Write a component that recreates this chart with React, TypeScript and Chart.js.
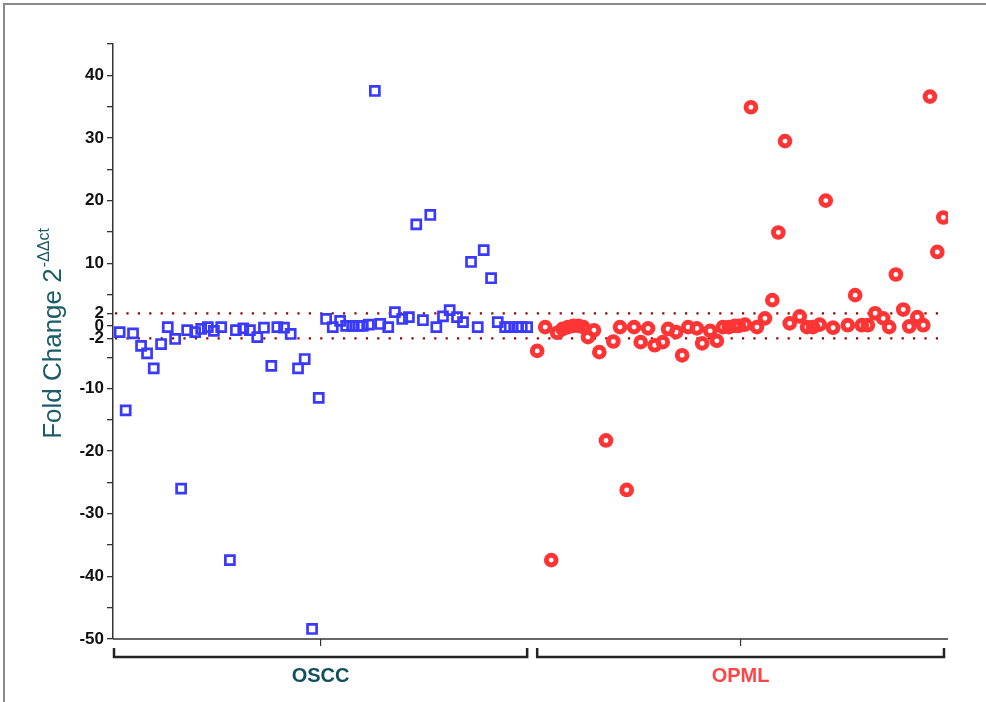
import { useEffect, useRef } from 'react';
import { Chart, registerables } from 'chart.js';

Chart.register(...registerables);

const FONT = '"Liberation Sans", Arial, Helvetica, sans-serif';

// Sample order along the x axis and fold change (2^-ΔΔct) for every sample
const osccSample = [
  1.0, 1.9, 3.0, 4.2, 5.1, 6.1, 7.2, 8.2, 9.3, 10.2,
  11.1, 12.3, 13.2, 14.2, 15.1, 16.2, 17.5, 18.4, 19.5, 20.5,
  21.6, 22.6, 23.7, 24.6, 25.6, 26.6, 27.7, 28.7, 29.8, 30.8,
  31.9, 32.9, 34.0, 34.9, 35.8, 36.7, 37.4, 38.3, 39.2, 40.0,
  41.2, 42.2, 43.3, 44.3, 45.4, 46.4, 47.5, 48.4, 49.4, 50.4,
  51.5, 52.4, 53.6, 54.6, 55.5, 56.6, 57.6, 58.7, 59.4, 60.5,
  61.2, 62.0,
];
const osccFold = [
  -1.0, -13.5, -1.2, -3.2, -4.4, -6.8, -2.9, -0.2, -2.1, -26.0,
  -0.7, -1.0, -0.5, -0.2, -0.8, -0.2, -37.4, -0.7, -0.4, -0.7,
  -1.8, -0.3, -6.4, -0.2, -0.3, -1.3, -6.8, -5.3, -48.4, -11.5,
  1.1, -0.2, 0.8, 0.0, 0.0, 0.0, 0.0, 0.2, 37.5, 0.3,
  -0.2, 2.2, 1.1, 1.4, 16.2, 0.9, 17.7, -0.2, 1.5, 2.5,
  1.4, 0.6, 10.2, -0.2, 12.1, 7.6, 0.6, -0.2, -0.2, -0.2,
  -0.2, -0.2,
];

const opmlSample = [
  63.5, 64.7, 65.6, 66.5, 67.3, 68.1, 68.9, 69.7, 70.4, 71.1,
  72.0, 72.8, 73.8, 74.9, 75.9, 76.9, 78.0, 79.0, 80.1, 81.1,
  82.3, 83.1, 84.3, 85.2, 86.1, 87.4, 88.2, 89.4, 90.4, 91.3,
  92.2, 93.1, 93.7, 94.6, 95.5, 96.4, 97.6, 98.7, 99.6, 100.6,
  101.3, 102.8, 103.9, 104.8, 105.8, 106.7, 107.8, 110.0, 111.1, 112.1,
  113.0, 114.1, 115.3, 116.2, 117.2, 118.3, 119.2, 120.4, 121.3, 122.3,
  123.4, 124.3,
];
const opmlFold = [
  -4.0, -0.2, -37.4, -1.1, -0.5, -0.2, 0.0, 0.0, -0.2, -1.8,
  -0.7, -4.2, -18.3, -2.5, -0.2, -26.2, -0.2, -2.6, -0.4, -3.1,
  -2.6, -0.5, -1.0, -4.7, -0.2, -0.4, -2.8, -0.8, -2.4, -0.2,
  -0.2, 0.0, 0.0, 0.2, 34.9, -0.2, 1.2, 4.1, 14.9, 29.5,
  0.4, 1.5, -0.2, -0.2, 0.2, 20.0, -0.3, 0.1, 4.9, 0.1,
  0.1, 2.0, 1.2, -0.2, 8.2, 2.6, -0.1, 1.4, 0.1, 36.6,
  11.8, 17.3,
];

// Fold-change cut-offs shown as dotted reference lines
const upCutoff = 2;
const downCutoff = -2;
const cutoffSpan = [0.3, 124.8];

// Y axis: tick marks every 5, labels on the decades and on the cut-offs
const yTicks = [-50, -45, -40, -35, -30, -25, -20, -15, -10, -5, -2, 0, 2, 5, 10, 15, 20, 25, 30, 35, 40, 45];
const yTickLabels = [-50, -40, -30, -20, -10, -2, 0, 2, 10, 20, 30, 40];

// Sample groups along the bottom
const groupLabels = ['OSCC', 'OPML'];
const groupRanges = [[0.15, 62.0], [63.5, 124.4]];
const groupColors = ['#10505d', '#ff4646'];

const yTitle = 'Fold Change 2';
const yTitleSup = '-ΔΔct';

const decorations = {
  id: 'decorations',
  afterDraw(chart: any) {
    const { ctx, chartArea, scales } = chart;
    const xs = scales.x;
    const bottom = chartArea.bottom;
    ctx.save();

    // x axis line
    ctx.strokeStyle = '#333';
    ctx.lineWidth = 1.5;
    ctx.beginPath();
    ctx.moveTo(chartArea.left, bottom);
    ctx.lineTo(chartArea.right, bottom);
    ctx.stroke();

    groupRanges.forEach(([a, b], i) => {
      const x1 = xs.getPixelForValue(a);
      const x2 = xs.getPixelForValue(b);
      const mid = (x1 + x2) / 2;
      // centre tick
      ctx.strokeStyle = '#333';
      ctx.lineWidth = 1.2;
      ctx.beginPath();
      ctx.moveTo(mid, bottom);
      ctx.lineTo(mid, bottom + 7);
      ctx.stroke();
      // group bracket
      ctx.strokeStyle = '#222';
      ctx.lineWidth = 2.5;
      ctx.beginPath();
      ctx.moveTo(x1, bottom + 9);
      ctx.lineTo(x1, bottom + 18);
      ctx.lineTo(x2, bottom + 18);
      ctx.lineTo(x2, bottom + 9);
      ctx.stroke();
      // group name
      ctx.fillStyle = groupColors[i];
      ctx.font = `bold 20px ${FONT}`;
      ctx.textAlign = 'center';
      ctx.textBaseline = 'middle';
      ctx.fillText(groupLabels[i], mid, bottom + 37);
    });

    // rotated y title with superscript
    const mainFont = `26px ${FONT}`;
    const supFont = `16px ${FONT}`;
    ctx.font = mainFont;
    const wMain = ctx.measureText(yTitle).width;
    ctx.font = supFont;
    const wSup = ctx.measureText(yTitleSup).width;
    const total = wMain + 1 + wSup;
    const cy = (chartArea.top + chartArea.bottom) / 2 - 8;
    ctx.translate(chartArea.left - 52, cy);
    ctx.rotate(-Math.PI / 2);
    ctx.fillStyle = '#1b5c69';
    ctx.textAlign = 'left';
    ctx.textBaseline = 'alphabetic';
    ctx.font = mainFont;
    ctx.fillText(yTitle, -total / 2, 0);
    ctx.font = supFont;
    ctx.fillText(yTitleSup, -total / 2 + wMain + 1, -12);

    ctx.restore();
  },
};

export default function App() {
  const canvasRef = useRef<HTMLCanvasElement | null>(null);

  useEffect(() => {
    const canvas = canvasRef.current;
    if (!canvas) return;

    const cutoffLine = (v: number) => ({
      data: cutoffSpan.map((x) => ({ x, y: v })),
      showLine: true,
      pointRadius: 0,
      borderColor: '#9a0000',
      borderWidth: 2.2,
      borderDash: [2.2, 9.2],
      borderCapStyle: 'butt',
      order: 3,
    });

    const chart = new Chart(canvas, {
      type: 'scatter',
      data: {
        datasets: [
          cutoffLine(upCutoff) as any,
          cutoffLine(downCutoff) as any,
          {
            label: 'OSCC',
            data: osccSample.map((x, i) => ({ x, y: osccFold[i] })),
            pointStyle: 'rect',
            pointRadius: 6.4,
            pointBorderWidth: 2.7,
            pointBackgroundColor: 'rgba(0,0,0,0)',
            pointBorderColor: '#3a3aff',
            order: 1,
          },
          {
            label: 'OPML',
            data: opmlSample.map((x, i) => ({ x, y: opmlFold[i] })),
            pointStyle: 'circle',
            pointRadius: 4.9,
            pointBorderWidth: 4.9,
            pointBackgroundColor: 'rgba(0,0,0,0)',
            pointBorderColor: '#ff3535',
            order: 1,
          },
        ],
      },
      options: {
        responsive: false,
        animation: false,
        devicePixelRatio: 1,
        layout: { padding: { left: 43, top: 44, right: 38, bottom: 63 } },
        plugins: {
          legend: { display: false },
          tooltip: { enabled: false },
        },
        scales: {
          x: { type: 'linear', min: 0, max: 125, display: false },
          y: {
            type: 'linear',
            min: -50,
            max: 45,
            afterBuildTicks: (scale: any) => {
              scale.ticks = yTicks.map((value) => ({ value }));
            },
            afterFit: (scale: any) => {
              scale.width = 70;
            },
            ticks: {
              autoSkip: false,
              padding: 3,
              color: '#111',
              font: { family: FONT, size: 17, weight: 'bold' },
              callback: (v: any) => (yTickLabels.includes(Number(v)) ? String(v) : ''),
            },
            grid: {
              display: true,
              drawOnChartArea: false,
              drawTicks: true,
              tickLength: 6,
              color: '#333',
              lineWidth: 1.3,
            },
            border: { display: true, color: '#333', width: 1.5 },
          },
        },
      },
      plugins: [decorations],
    } as any);

    return () => chart.destroy();
  }, []);

  return (
    <div style={{ position: 'absolute', left: 0, top: 0, width: 986, height: 702, background: '#fff' }}>
      <canvas ref={canvasRef} width={986} height={702} style={{ display: 'block' }} />
      <div
        style={{
          position: 'absolute',
          left: 3,
          top: 3,
          right: 0,
          bottom: 0,
          borderTop: '2px solid #8a8a8a',
          borderLeft: '2px solid #8a8a8a',
          pointerEvents: 'none',
        }}
      />
    </div>
  );
}
